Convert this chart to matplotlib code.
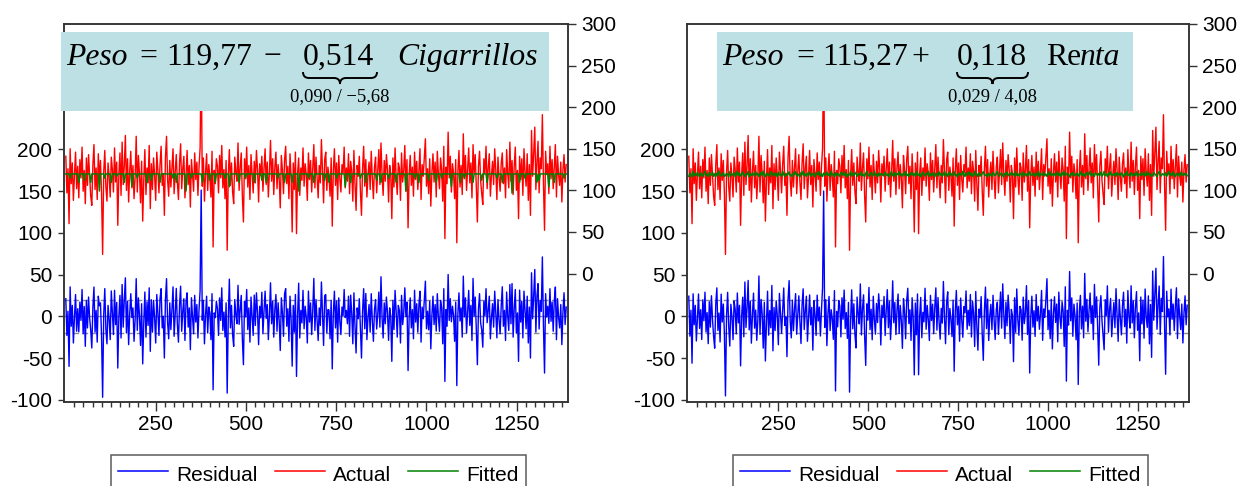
import numpy as np
import matplotlib
matplotlib.use('Agg')
from matplotlib import pyplot as plt
from matplotlib.patches import Rectangle, PathPatch
from matplotlib.path import Path

plt.rcParams['font.family'] = 'Liberation Sans'
plt.rcParams['axes.unicode_minus'] = False

W, H = 1242, 486

obs = np.arange(1, 1389, 3)

# actual birth weight (Peso), same in both panels
peso = np.array([
    141, 97, 126, 60, 150, 108, 133, 88, 119, 146, 102, 129, 91, 137, 115, 152, 99, 124, 84, 139,
    106, 143, 118, 93, 82, 131, 155, 101, 127, 89, 144, 112, 136, 96, 23, 122, 148, 104, 87, 133,
    117, 92, 140, 125, 98, 151, 110, 134, 58, 120, 145, 94, 158, 107, 129, 166, 100, 138, 86, 123,
    147, 103, 130, 90, 116, 165, 98, 142, 121, 85, 135, 63, 113, 149, 95, 127, 109, 154, 78, 132,
    101, 139, 118, 88, 146, 124, 97, 131, 153, 106, 120, 70, 140, 165, 112, 93, 136, 104, 128, 150,
    96, 122, 143, 110, 89, 133, 156, 102, 126, 141, 91, 117, 148, 107, 130, 80, 137, 119, 99, 145,
    113, 134, 94, 128, 151, 271, 105, 139, 87, 121, 144, 100, 131, 116, 92, 147, 32, 124, 108, 138,
    129, 97, 142, 115, 154, 103, 125, 90, 136, 28, 118, 149, 106, 133, 98, 84, 140, 122, 111, 157,
    100, 127, 145, 93, 62, 138, 114, 152, 104, 130, 89, 143, 119, 97, 135, 109, 148, 125, 86, 132,
    118, 141, 99, 126, 150, 107, 134, 92, 122, 160, 111, 138, 95, 128, 146, 102, 131, 115, 79, 142,
    124, 96, 137, 153, 108, 129, 90, 144, 117, 50, 133, 101, 146, 48, 121, 139, 94, 127, 112, 151,
    105, 132, 119, 88, 145, 113, 136, 98, 127, 155, 103, 140, 116, 91, 130, 109, 161, 122, 85, 137,
    146, 100, 128, 117, 93, 139, 57, 124, 150, 106, 133, 89, 142, 114, 98, 131, 121, 152, 103, 127,
    111, 144, 96, 135, 123, 87, 148, 108, 76, 130, 117, 141, 99, 70, 126, 153, 105, 137, 92, 119,
    134, 101, 147, 115, 90, 128, 140, 97, 122, 149, 107, 157, 118, 94, 136, 111, 143, 125, 86, 130,
    120, 66, 139, 104, 151, 116, 95, 133, 127, 88, 145, 110, 124, 154, 99, 137, 55, 119, 142, 106,
    128, 93, 146, 113, 135, 101, 123, 150, 89, 131, 117, 140, 162, 105, 126, 96, 138, 81, 121, 144,
    110, 134, 92, 147, 119, 102, 139, 125, 87, 153, 42, 128, 108, 170, 115, 141, 98, 132, 121, 90,
    137, 37, 123, 148, 104, 130, 95, 168, 114, 142, 100, 126, 151, 109, 133, 91, 155, 120, 143, 105,
    62, 129, 147, 112, 96, 83, 138, 121, 153, 102, 127, 144, 93, 118, 135, 107, 150, 124, 89, 140,
    116, 99, 132, 145, 108, 127, 91, 149, 120, 103, 158, 111, 136, 95, 129, 152, 100, 124, 66, 141,
    113, 138, 94, 150, 122, 105, 144, 88, 131, 70, 172, 117, 145, 176, 101, 134, 159, 97, 139, 126,
    191, 108, 52, 147, 119, 132, 96, 153, 114, 137, 102, 128, 155, 92, 141, 118, 106, 134, 86, 125,
    143, 110, 131])

# smokers: sample position -> cigarettes per day (all others 0)
smoker_pos = [4, 12, 17, 23, 31, 36, 42, 47, 54, 61, 66, 75, 79, 87, 99, 102, 111, 116, 126, 133,
              138, 147, 151, 160, 166, 174, 181, 185, 196, 202, 209, 215, 224, 229, 239, 243, 250,
              258, 263, 272, 277, 287, 291, 298, 305, 314, 322, 326, 335, 342, 347, 356, 364, 368,
              376, 384, 389, 398, 403, 412, 419, 424, 435, 437, 446, 451, 460]
smoker_cigs = [10, 20, 15, 20, 40, 10, 20, 5, 20, 30, 10, 20, 15, 20, 10, 20, 40, 10, 20, 15,
               20, 10, 30, 20, 10, 20, 15, 20, 10, 20, 20, 40, 10, 20, 15, 20, 10,
               30, 20, 10, 20, 15, 20, 10, 20, 40, 10, 20, 15, 20, 10, 30, 20, 10,
               20, 15, 20, 10, 20, 45, 20, 10, 20, 15, 30, 20, 10]
cigarrillos = np.zeros(len(obs))
cigarrillos[smoker_pos] = smoker_cigs

# family income (Renta)
renta = np.array([
    13, 45, 28, 6, 65, 23, 38, 18, 55, 33, 9, 48, 28, 15, 42, 65, 20, 35, 11, 52,
    30, 25, 58, 14, 40, 8, 47, 22, 65, 36, 17, 29, 50, 12, 24, 44, 33, 6, 61, 27,
    19, 38, 53, 10, 31, 65, 21, 46, 16, 34, 57, 26, 13, 41, 29, 65, 7, 37, 23, 49,
    32, 15, 60, 28, 44, 11, 36, 54, 20, 65, 25, 9, 47, 30, 18, 39, 62, 14, 33, 51,
    22, 42, 8, 56, 27, 35, 16, 65, 31, 12, 45, 24, 38, 58, 19, 29, 10, 49, 34, 63,
    17, 40, 26, 6, 52, 30, 65, 21, 37, 13, 46, 28, 59, 15, 33, 43, 24, 9, 55, 36,
    27, 64, 18, 39, 11, 48, 25, 32, 57, 20, 41, 14, 65, 29, 35, 7, 50, 23, 44, 30,
    12, 53, 37, 26, 61, 19, 43, 8, 34, 28, 65, 16, 47, 22, 38, 55, 13, 31, 40, 24,
    58, 21, 33, 10, 45, 65, 27, 17, 39, 52, 14, 30, 62, 25, 36, 9, 48, 20, 42, 29,
    35, 15, 56, 31, 23, 44, 6, 38, 65, 18, 28, 50, 12, 41, 33, 60, 22, 37, 16, 46,
    26, 63, 19, 34, 11, 49, 29, 54, 24, 40, 14, 65, 32, 21, 45, 8, 36, 57, 27, 17,
    43, 30, 65, 13, 38, 22, 51, 28, 9, 47, 35, 18, 60, 25, 42, 15, 33, 65, 20, 39,
    11, 55, 27, 44, 16, 36, 62, 23, 31, 7, 48, 29, 40, 19, 65, 34, 12, 52, 26, 37,
    58, 21, 45, 14, 33, 65, 24, 39, 10, 50, 28, 17, 43, 61, 30, 22, 36, 8, 47, 25,
    35, 13, 54, 32, 20, 42, 65, 27, 15, 38, 49, 23, 6, 44, 31, 59, 18, 36, 26, 53,
    29, 41, 12, 65, 24, 37, 19, 48, 33, 10, 56, 28, 40, 16, 45, 22, 63, 34, 21, 30,
    50, 14, 38, 27, 65, 9, 43, 31, 20, 57, 25, 36, 13, 47, 29, 62, 18, 39, 24, 44,
    16, 33, 60, 22, 40, 11, 52, 28, 65, 19, 35, 46, 26, 8, 42, 30, 55, 17, 37, 23,
    48, 27, 14, 64, 32, 21, 45, 10, 38, 53, 25, 34, 65, 18, 41, 29, 12, 50, 36, 20,
    43, 24, 58, 15, 31, 65, 22, 39, 9, 47, 28, 61, 17, 35, 26, 44, 13, 54, 30, 37,
    19, 49, 33, 6, 42, 27, 65, 23, 36, 14, 51, 30, 18, 45, 25, 60, 11, 38, 32, 21,
    56, 28, 40, 16, 65, 24, 35, 47, 12, 31, 20, 53, 38, 26, 9, 44, 62, 29, 17, 41,
    34, 22, 50, 13, 37, 65, 25, 43, 18, 58, 30, 10, 46, 27, 39, 15, 55, 33, 21, 48,
    26, 40, 19])

# regression results shown in the boxes
fit_cig = 119.77 - 0.514 * cigarrillos
fit_renta = 115.27 + 0.118 * renta
se_cig = 20.13
se_renta = 20.2

legend_labels = ['Residual', 'Actual', 'Fitted']
x_major = [250, 500, 750, 1000, 1250]


def fx(x):
    return x / W


def fy(y):
    return 1 - y / H


fig = plt.figure(figsize=(W / 100, H / 100), dpi=100)

panels = [
    dict(x0=64, x1=568, fitted=fit_cig, se=se_cig, box=(61, 549), leg_x=111,
         pieces=[('Peso', 66, 'italic'), ('=', 139, 'normal'), ('119,77', 166, 'normal'),
                 ('\u2212', 263, 'normal'), ('0,514', 303, 'normal'),
                 ('Cigarrillos', 397, 'italic')],
         brace=(303, 377), sub='0,090 / \u22125,68'),
    dict(x0=687, x1=1189, fitted=fit_renta, se=se_renta, box=(717, 1133), leg_x=733,
         pieces=[('Peso', 722, 'italic'), ('=', 796, 'normal'), ('115,27', 822, 'normal'),
                 ('+', 911, 'normal'), ('0,118', 957, 'normal'), ('Re', 1046, 'normal'),
                 ('nta', 1080, 'italic')],
         brace=(957, 1028), sub='0,029 / 4,08'),
]

for p in panels:
    resid = peso - p['fitted']
    ax = fig.add_axes([fx(p['x0']), fy(402), (p['x1'] - p['x0']) / W, 378 / H])
    ax2 = ax.twinx()

    ax.axhline(0, color='#8c8c8c', lw=1.0, zorder=1)
    ax.axhline(p['se'], color='#8c8c8c', lw=1.0, ls=(0, (4, 2.5)), zorder=1)
    ax.axhline(-p['se'], color='#8c8c8c', lw=1.0, ls=(0, (4, 2.5)), zorder=1)
    l1, = ax.plot(obs, resid, color='#0000ff', lw=1.0, zorder=2)
    l2, = ax2.plot(obs, peso, color='#ff0000', lw=1.0)
    l3, = ax2.plot(obs, p['fitted'], color='#008000', lw=1.1)

    ax.set_xlim(-4, 1392)
    ax.set_ylim(-102.4, 350)
    ax2.set_ylim(-154.4, 300)
    ax.set_yticks([-100, -50, 0, 50, 100, 150, 200])
    ax2.set_yticks([0, 50, 100, 150, 200, 250, 300])
    ax.set_xticks(x_major)
    ax.set_xticks([t for t in range(25, 1389, 25) if t not in x_major], minor=True)

    for a in (ax, ax2):
        for s in a.spines.values():
            s.set_color('#333333')
            s.set_linewidth(1.1)
    ax.tick_params(axis='y', direction='out', length=4.5, width=1.0, pad=4,
                   labelsize=15, color='#333333')
    ax2.tick_params(axis='y', direction='out', length=5.5, width=1.0, pad=4,
                    labelsize=15, color='#333333')
    ax.tick_params(axis='x', which='major', direction='out', length=6.5, width=1.0,
                   pad=3, labelsize=15, color='#333333')
    ax.tick_params(axis='x', which='minor', direction='out', length=3.5, width=1.0,
                   color='#333333')

    # equation box drawn over the plot
    bx0, bx1 = p['box']
    fig.add_artist(Rectangle((fx(bx0), fy(111)), (bx1 - bx0) / W, 79 / H,
                             transform=fig.transFigure, facecolor='#bce0e4',
                             edgecolor='none', zorder=5))
    for text, xp, style in p['pieces']:
        fig.text(fx(xp), fy(65), text, family='Liberation Serif', style=style,
                 fontsize=22.8, va='baseline', ha='left', zorder=6)
    b0, b1 = p['brace']
    bc = (b0 + b1) / 2
    verts = [(b0, 72), (b0, 78), (b0 + 6, 78), (bc - 6, 78), (bc, 78), (bc, 84),
             (bc, 78), (bc + 6, 78), (b1 - 6, 78), (b1, 78), (b1, 72)]
    codes = [Path.MOVETO, Path.CURVE3, Path.CURVE3, Path.LINETO, Path.CURVE3, Path.CURVE3,
             Path.CURVE3, Path.CURVE3, Path.LINETO, Path.CURVE3, Path.CURVE3]
    brace = Path([(fx(a), fy(b)) for a, b in verts], codes)
    fig.add_artist(PathPatch(brace, transform=fig.transFigure, facecolor='none',
                             edgecolor='black', lw=1.4, zorder=6))
    fig.text(fx(bc), fy(101.5), p['sub'], family='Liberation Serif', fontsize=13.4,
             va='baseline', ha='center', zorder=6)

    leg = fig.legend([l1, l2, l3], legend_labels, loc='upper left',
                     bbox_to_anchor=(fx(p['leg_x']), fy(455)),
                     bbox_transform=fig.transFigure, ncol=3, fontsize=15, frameon=True,
                     fancybox=False, borderaxespad=0, borderpad=0.35, handlelength=2.4,
                     handletextpad=0.4, columnspacing=0.8, handleheight=1.3)
    leg.get_frame().set_edgecolor('#333333')
    leg.get_frame().set_linewidth(1.1)
    for h in leg.legend_handles:
        h.set_linewidth(1.1)

fig.savefig('out.png', dpi=100)
